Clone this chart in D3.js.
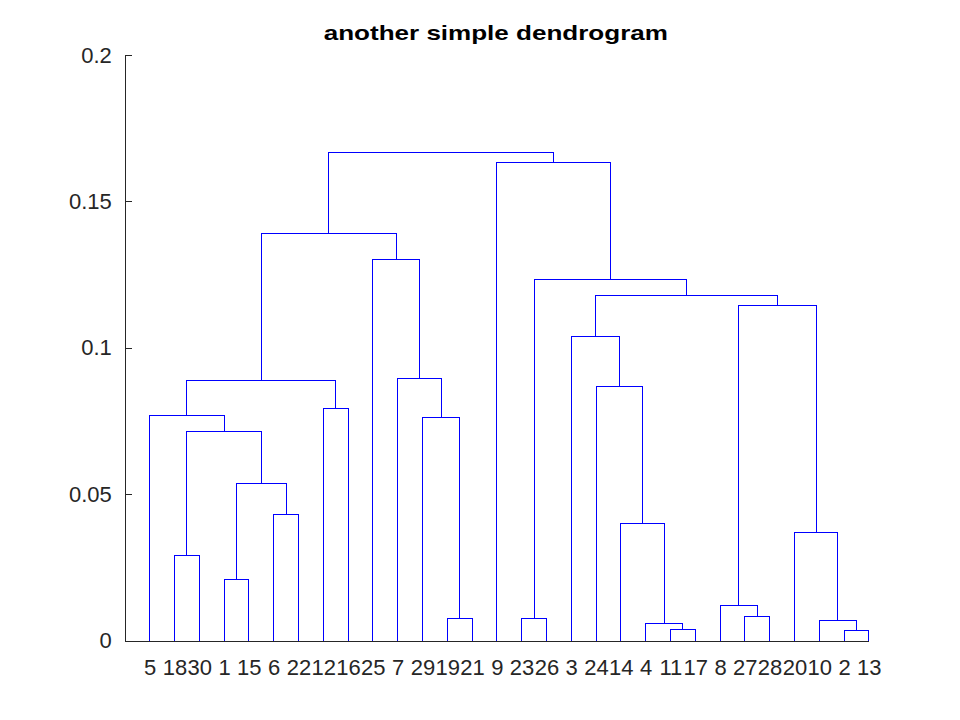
<!DOCTYPE html>
<html>
<head>
<meta charset="utf-8">
<script src="https://cdn.jsdelivr.net/npm/d3@7"></script>
<style>
  body { margin: 0; background: #fff; }
  text { font-family: "Liberation Sans", Arial, sans-serif; }
</style>
</head>
<body>
<div id="chart"></div>
<script>
// leaf labels in the order they appear on the x axis
const leafOrder = [5, 18, 30, 1, 15, 6, 22, 12, 16, 25, 7, 29, 19, 21, 9,
                   23, 26, 3, 24, 14, 4, 11, 17, 8, 27, 28, 20, 10, 2, 13];

// linkage rows: node 30 + i joins linkLeft[i] and linkRight[i] at linkHeight[i]
const linkLeft   = [19, 23, 2, 11, 4, 10, 27, 8, 1, 18, 20, 14, 6, 39, 40,
                    29, 5, 12, 24, 47, 7, 3, 38, 52, 32, 25, 50, 9, 57];
const linkRight  = [21, 26, 13, 17, 34, 33, 28, 37, 15, 30, 36, 35, 22, 43, 44,
                    31, 45, 16, 42, 48, 46, 49, 41, 53, 54, 51, 56, 55, 58];
const linkHeight = [0.0074, 0.0074, 0.0033, 0.0036, 0.0057, 0.0067, 0.0081, 0.0118,
                    0.0210, 0.0292, 0.0370, 0.0398, 0.0432, 0.0537, 0.0714, 0.0762,
                    0.0769, 0.0793, 0.0868, 0.0888, 0.0895, 0.1038, 0.1144, 0.1179,
                    0.1232, 0.1301, 0.1389, 0.1634, 0.1668];

const yTicks = [0, 0.05, 0.1, 0.15, 0.2];
const titleText = "another simple dendrogram";

const W = 960, H = 720;
const plotLeft = 124.8, plotRight = 868.8, plotTop = 55, plotBottom = 640.5;

const svg = d3.select("#chart")
    .append("svg")
    .attr("width", W)
    .attr("height", H);

const x = d3.scaleLinear().domain([0, leafOrder.length]).range([plotLeft, plotRight]);
const y = d3.scaleLinear().domain([0, 0.2]).range([plotBottom, plotTop]);

// position and height of every leaf and node
const nLeaves = leafOrder.length;
const posX = {}, posH = {};
leafOrder.forEach((lab, i) => { posX[lab] = x(i + 1); posH[lab] = 0; });
linkHeight.forEach((h, i) => {
    const id = nLeaves + i + 1;
    posX[id] = (posX[linkLeft[i]] + posX[linkRight[i]]) / 2;
    posH[id] = h;
});

const links = linkHeight.map((h, i) => ({ a: linkLeft[i], b: linkRight[i], h: h }));

svg.append("g")
    .selectAll("path")
    .data(links)
    .enter()
    .append("path")
    .attr("d", d => "M" + posX[d.a] + "," + y(posH[d.a]) +
                    "V" + y(d.h) + "H" + posX[d.b] + "V" + y(posH[d.b]))
    .attr("fill", "none")
    .attr("stroke", "#0000ff")
    .attr("stroke-width", 1)
    .attr("shape-rendering", "crispEdges");

// y axis, ticks pointing inward
const yAxis = svg.append("g")
    .attr("transform", "translate(" + plotLeft + ",0)")
    .call(d3.axisLeft(y)
        .tickValues(yTicks)
        .tickFormat(d => String(d))
        .tickSizeInner(-7)
        .tickSizeOuter(0)
        .tickPadding(13));

// x axis with leaf labels
const xAxis = svg.append("g")
    .attr("transform", "translate(0," + plotBottom + ")")
    .call(d3.axisBottom(x)
        .tickValues(d3.range(1, nLeaves + 1))
        .tickFormat(d => leafOrder[d - 1])
        .tickSizeInner(0)
        .tickSizeOuter(0)
        .tickPadding(19));

[yAxis, xAxis].forEach(g => {
    g.select(".domain").attr("stroke", "#262626").attr("shape-rendering", "crispEdges");
    g.selectAll(".tick line").attr("stroke", "#262626").attr("shape-rendering", "crispEdges");
    g.selectAll(".tick text")
        .style("font-family", "'Liberation Sans', Arial, sans-serif")
        .style("font-size", "22px")
        .attr("fill", "#262626");
});

// title glyphs are wide in the original, so stretch horizontally
svg.append("text")
    .attr("transform", "translate(" + ((plotLeft + plotRight) / 2 - 1) + ",40) scale(1.27,1)")
    .attr("text-anchor", "middle")
    .style("font-size", "20.5px")
    .style("font-weight", "bold")
    .attr("fill", "#000")
    .text(titleText);
</script>
</body>
</html>
